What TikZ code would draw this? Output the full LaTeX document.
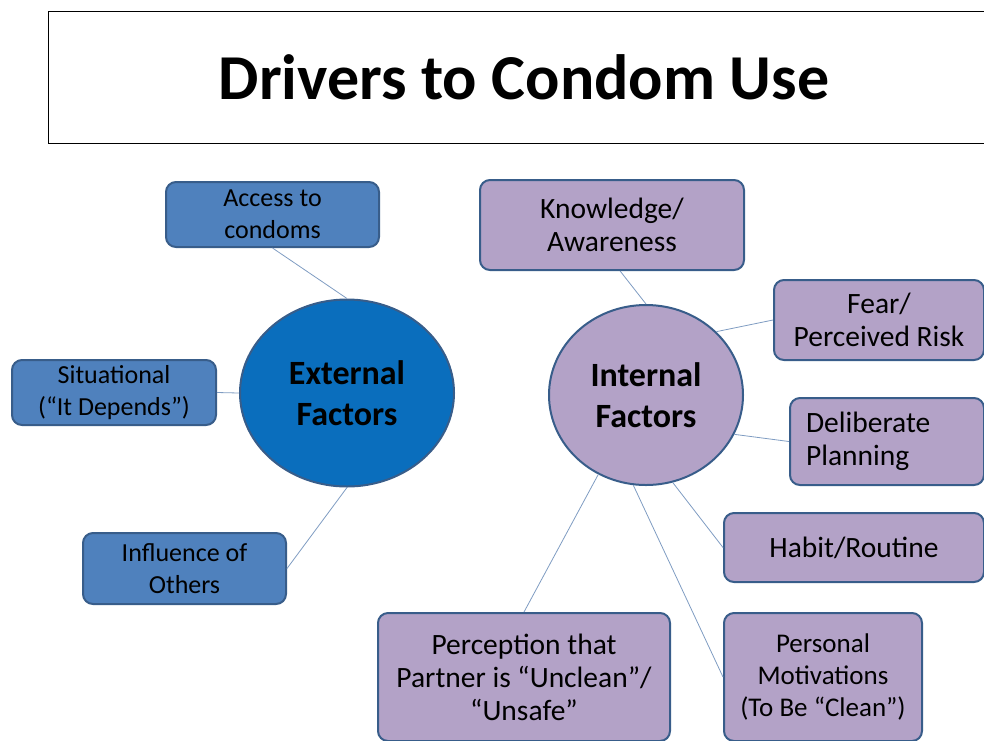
\documentclass[tikz,border=0pt]{standalone}
\usepackage{fontspec}
\setmainfont{Carlito}
\usepackage{xcolor}
\usetikzlibrary{shapes.geometric}

\definecolor{extblue}{HTML}{0A6EBD}
\definecolor{boxblue}{HTML}{4F81BD}
\definecolor{edgeblue}{HTML}{385D8A}
\definecolor{lilac}{HTML}{B3A2C7}
\definecolor{linkblue}{HTML}{7F9CC2}

\tikzset{
  factor/.style={ellipse, draw=edgeblue, line width=2pt, inner sep=0pt, align=center,
    font=\fontsize{34}{41}\selectfont\bfseries},
  extbox/.style={rectangle, rounded corners=10pt, draw=edgeblue, line width=2pt, fill=boxblue,
    inner sep=0pt, align=center, font=\fontsize{26}{32}\selectfont},
  intbox/.style={extbox, fill=lilac, font=\fontsize{29.5}{33}\selectfont},
  link/.style={draw=linkblue, line width=0.8pt}
}

\begin{document}
\begin{tikzpicture}[x=1pt, y=-1pt]
  \useasboundingbox (0,0) rectangle (984,740);
  \clip (0,0) rectangle (984,740);

  \node[draw, line width=1pt, minimum width=952pt, minimum height=132pt,
    font=\fontsize{64}{70}\selectfont\bfseries] (title) at (524,77.5) {Drivers to Condom Use};

  \node[factor, fill=extblue, minimum width=214pt, minimum height=187pt] (ext) at (347,393) {External\\Factors};
  \node[factor, fill=lilac, minimum width=194pt, minimum height=180pt] (int) at (646,395) {Internal\\Factors};

  \node[extbox, minimum width=213pt, minimum height=65pt] (access) at (272.5,214.5) {Access to\\condoms};
  \node[extbox, minimum width=204pt, minimum height=65pt] (situ) at (114,392.5) {Situational\\(“It Depends”)};
  \node[extbox, minimum width=203pt, minimum height=71pt] (influence) at (184.5,568.5) {Influence of\\Others};

  \node[intbox, minimum width=264pt, minimum height=90pt] (know) at (612,225) {Knowledge/\\Awareness};
  \node[intbox, minimum width=210pt, minimum height=80pt] (fear) at (879,320) {Fear/\\Perceived Risk};
  \node[intbox, minimum width=194pt, minimum height=87pt, text width=162pt, align=left] (plan) at (887,441.5) {Deliberate\\Planning};
  \node[intbox, minimum width=260pt, minimum height=69pt] (habit) at (854,547.5) {Habit/Routine};
  \node[intbox, minimum width=292pt, minimum height=128pt] (unclean) at (524,677) {Perception that\\Partner is “Unclean”/\\“Unsafe”};
  \node[intbox, minimum width=198pt, minimum height=128pt, font=\fontsize{27}{32}\selectfont] (motive) at (823,677) {Personal\\Motivations\\(To Be “Clean”)};

  \draw[link] (access.south) -- (ext.north);
  \draw[link] (situ.east) -- (ext.west);
  \draw[link] (influence.east) -- (ext.south);

  \draw[link] (know.-80) -- (int.north);
  \draw[link] (int.42) -- (fear.west);
  \draw[link] (int.-24) -- (plan.west);
  \draw[link] (int.-73) -- (habit.west);
  \draw[link] (int.-98) -- (motive.west);
  \draw[link] (int.-121) -- (unclean.north);
\end{tikzpicture}
\end{document}
